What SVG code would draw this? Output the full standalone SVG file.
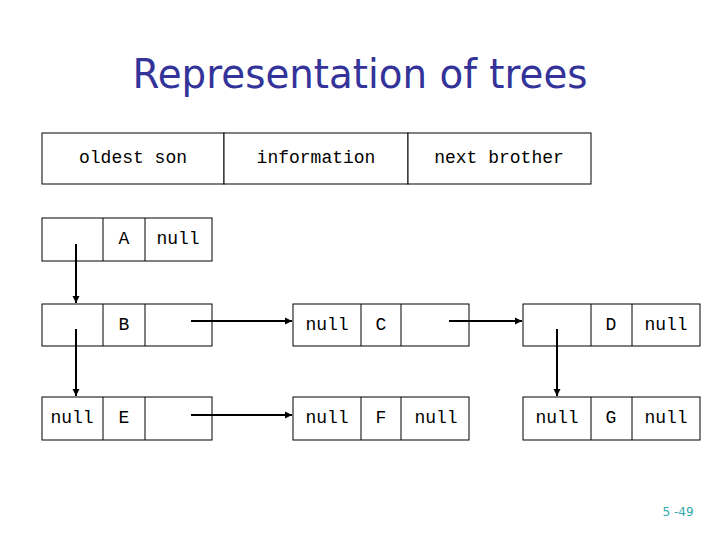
<svg xmlns="http://www.w3.org/2000/svg" width="720" height="540" viewBox="0 0 720 540">
<defs>
<marker id="ah" markerWidth="8" markerHeight="8" refX="7" refY="4" orient="auto" markerUnits="userSpaceOnUse"><path d="M0,0.5 L7,4 L0,7.5 z" fill="#000"/></marker>
<style>
rect{fill:#fff;stroke:#000;stroke-width:1}
line.d{stroke:#000;stroke-width:1}
.t{font-family:"Liberation Mono",monospace;font-size:18px;fill:#000;text-anchor:middle;dominant-baseline:central}
.c{stroke:#000;stroke-width:2;fill:none;marker-end:url(#ah)}
</style>
</defs>
<rect x="0" y="0" width="720" height="540" style="stroke:none"/>
<text x="360" y="88" text-anchor="middle" font-family="DejaVu Sans,sans-serif" font-size="40" fill="#333399" textLength="455" lengthAdjust="spacingAndGlyphs">Representation of trees</text>
<g id="header">
<rect x="42" y="133" width="182" height="51"/><rect x="224" y="133" width="184" height="51"/><rect x="408" y="133" width="183" height="51"/>
<text class="t" x="133" y="158">oldest son</text><text class="t" x="316" y="158">information</text><text class="t" x="499" y="158">next brother</text>
</g>
<g id="A"><rect x="42" y="218" width="170" height="43"/><line class="d" x1="103" y1="218" x2="103" y2="261"/><line class="d" x1="145" y1="218" x2="145" y2="261"/><text class="t" x="124" y="239">A</text><text class="t" x="178" y="239">null</text></g>
<g id="B"><rect x="42" y="304" width="170" height="42"/><line class="d" x1="103" y1="304" x2="103" y2="346"/><line class="d" x1="145" y1="304" x2="145" y2="346"/><text class="t" x="124" y="325">B</text></g>
<g id="E"><rect x="42" y="397" width="170" height="43"/><line class="d" x1="103" y1="397" x2="103" y2="440"/><line class="d" x1="145" y1="397" x2="145" y2="440"/><text class="t" x="72" y="418">null</text><text class="t" x="124" y="418">E</text></g>
<g id="C"><rect x="293" y="304" width="176" height="42"/><line class="d" x1="361" y1="304" x2="361" y2="346"/><line class="d" x1="401" y1="304" x2="401" y2="346"/><text class="t" x="327" y="325">null</text><text class="t" x="381" y="325">C</text></g>
<g id="F"><rect x="293" y="397" width="176" height="43"/><line class="d" x1="361" y1="397" x2="361" y2="440"/><line class="d" x1="401" y1="397" x2="401" y2="440"/><text class="t" x="327" y="418">null</text><text class="t" x="381" y="418">F</text><text class="t" x="436" y="418">null</text></g>
<g id="D"><rect x="523" y="304" width="177" height="42"/><line class="d" x1="591" y1="304" x2="591" y2="346"/><line class="d" x1="632" y1="304" x2="632" y2="346"/><text class="t" x="611" y="325">D</text><text class="t" x="666" y="325">null</text></g>
<g id="G"><rect x="523" y="397" width="177" height="43"/><line class="d" x1="591" y1="397" x2="591" y2="440"/><line class="d" x1="632" y1="397" x2="632" y2="440"/><text class="t" x="557" y="418">null</text><text class="t" x="611" y="418">G</text><text class="t" x="666" y="418">null</text></g>
<g id="connectors">
<line class="c" x1="76" y1="244" x2="76" y2="303"/>
<line class="c" x1="76" y1="329" x2="76" y2="396"/>
<line class="c" x1="191" y1="321" x2="292" y2="321"/>
<line class="c" x1="191" y1="415" x2="292" y2="415"/>
<line class="c" x1="449" y1="321" x2="522" y2="321"/>
<line class="c" x1="557" y1="329" x2="557" y2="396"/>
</g>
<text x="678" y="516" text-anchor="middle" font-family="DejaVu Sans,sans-serif" font-size="12" fill="#33aaaa">5 -49</text>
</svg>
